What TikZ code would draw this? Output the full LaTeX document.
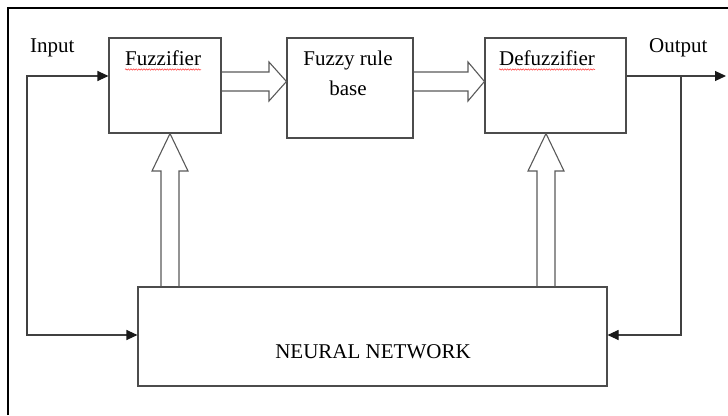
\documentclass[tikz,border=0pt]{standalone}
\usepackage{fontspec}
\setmainfont{Liberation Serif}
\usetikzlibrary{arrows.meta,calc,decorations.pathmorphing}
\begin{document}
\begin{tikzpicture}[x=1pt,y=-1pt,
  blk/.style={draw=black!70,line width=1.1pt,rectangle,inner sep=0pt},
  txt/.style={inner sep=0pt,anchor=base west,font=\fontsize{21}{25}\selectfont},
  ctxt/.style={inner sep=0pt,anchor=base,font=\fontsize{21}{25}\selectfont},
  line/.style={draw=black!75,line width=1.1pt},
  tip/.tip={Triangle[length=11pt,width=10pt,color=black!90]},
  arr/.style={line,-tip},
  hollow/.style={draw=black!65,line width=1.1pt,line join=miter},
  squig/.style={draw=red!80,line width=0.5pt,decorate,decoration={snake,amplitude=0.7pt,segment length=2.6pt}},
  frame/.style={draw=black,line width=2.6pt}]
\useasboundingbox (0,0) rectangle (728,415);
% outer frame (only top and left edges visible)
\draw[frame] (8,415) -- (8,8) -- (728,8);
% boxes
\node[blk,minimum width=112pt,minimum height=95pt] (fuzz) at (165,85.5) {};
\node[blk,minimum width=126pt,minimum height=100pt] (rule) at (350,88) {};
\node[blk,minimum width=141pt,minimum height=95pt] (defuzz) at (555.5,85.5) {};
\node[blk,minimum width=469pt,minimum height=99pt] (nn) at (372.5,336.5) {};
% texts
\node[txt] (tin) at (30,52) {Input};
\node[txt] (tfuzz) at (125,65) {Fuzzifier};
\node[ctxt] (trule1) at (348,65) {Fuzzy rule};
\node[ctxt] (trule2) at (348,95) {base};
\node[txt] (tdef) at (499,65) {Defuzzifier};
\node[txt] (tout) at (649,52) {Output};
\node[ctxt] (tnn) at (373,358) {NEURAL NETWORK};
% spell-check squiggles
\draw[squig] (tfuzz.base west |- 0,69.5) -- (tfuzz.base east |- 0,69.5);
\draw[squig] (tdef.base west |- 0,69.5) -- (tdef.base east |- 0,69.5);
% hollow arrows between blocks
\draw[hollow] (fuzz.east |- 0,72) -- (269,72) -- (269,62) -- (rule.west |- 0,81.5) -- (269,101) -- (269,91) -- (fuzz.east |- 0,91);
\draw[hollow] (rule.east |- 0,72) -- (468,72) -- (468,62) -- (defuzz.west |- 0,81.5) -- (468,101) -- (468,91) -- (rule.east |- 0,91);
% hollow arrows from neural network up
\draw[hollow] (161,0 |- nn.north) -- (161,171) -- (152,171) -- (170,0 |- fuzz.south) -- (188,171) -- (179,171) -- (179,0 |- nn.north);
\draw[hollow] (537,0 |- nn.north) -- (537,171) -- (528,171) -- (546,0 |- defuzz.south) -- (564,171) -- (555,171) -- (555,0 |- nn.north);
% input line
\coordinate (incorner) at (27,76);
\draw[line,tip-tip] (fuzz.west |- incorner) -- (incorner) -- (27,335) -- (nn.west |- 0,335);
% output line
\coordinate (outend) at (726,76);
\coordinate (outbranch) at (681,76);
\draw[arr] (defuzz.east |- outend) -- (outend);
\draw[arr] (outbranch) -- (681,335) -- (nn.east |- 0,335);
\end{tikzpicture}
\end{document}
